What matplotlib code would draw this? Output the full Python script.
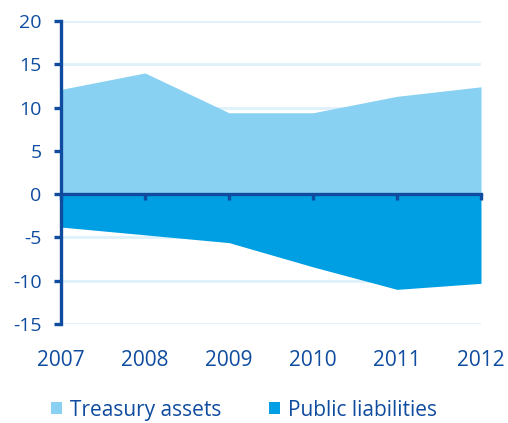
import matplotlib
matplotlib.use("Agg")
import matplotlib.pyplot as plt
from matplotlib.patches import Patch

years = [2007, 2008, 2009, 2010, 2011, 2012]
treasury_assets = [12.1, 14.0, 9.4, 9.4, 11.3, 12.4]
public_liabilities = [-3.8, -4.7, -5.6, -8.4, -11.0, -10.3]
yticks = [-15, -10, -5, 0, 5, 10, 15, 20]

navy = "#0f4c9f"
light = "#89d1f2"
dark = "#009ee2"
grid = "#dff1fb"

plt.rcParams['font.family'] = ['Open Sans', 'DejaVu Sans']

fig = plt.figure(figsize=(5.08, 4.23), dpi=100)
ax = fig.add_axes([61/508, 1 - 324/423, 420/508, 303/423])

ax.fill_between(years, 0, treasury_assets, color=light, lw=0, zorder=1)
ax.fill_between(years, 0, public_liabilities, color=dark, lw=0, zorder=1)

ax.set_xlim(years[0], years[-1])
ax.set_ylim(-15, 20)
ax.set_yticks(yticks)
ax.set_yticklabels([str(v) for v in yticks])
for v in yticks:
    if v not in (0, 5):
        ax.axhline(v, color=grid, lw=2, zorder=0)

for s in ['top', 'right']:
    ax.spines[s].set_visible(False)
ax.spines['left'].set_color(navy)
ax.spines['left'].set_linewidth(2.4)
ax.spines['left'].set_bounds(-15, 20)
ax.spines['bottom'].set_position(('data', 0))
ax.spines['bottom'].set_color(navy)
ax.spines['bottom'].set_linewidth(2.4)
ax.spines['left'].set_zorder(3)
ax.spines['bottom'].set_zorder(3)

ax.tick_params(axis='y', direction='out', length=5, width=2.4, color=navy,
               labelcolor=navy, labelsize=14, pad=9)
ax.set_xticks(years)
ax.tick_params(axis='x', direction='out', length=4, width=2.4, color=navy,
               labelbottom=False)

sec = ax.secondary_xaxis(0)
sec.set_xticks(years)
sec.set_xticklabels([str(y) for y in years])
sec.spines['bottom'].set_visible(False)
sec.tick_params(length=0, labelcolor=navy, labelsize=15, pad=19)

handles = [Patch(color=light, lw=0), Patch(color=dark, lw=0)]
leg = fig.legend(handles, ['Treasury assets', 'Public liabilities'], loc='center',
                 bbox_to_anchor=(0.48, 1 - 410/423), ncol=2, frameon=False,
                 handlelength=0.55, handleheight=0.55, handletextpad=0.35,
                 columnspacing=2.3, fontsize=15)
for t in leg.get_texts():
    t.set_color(navy)

fig.savefig("out.png", dpi=100)
